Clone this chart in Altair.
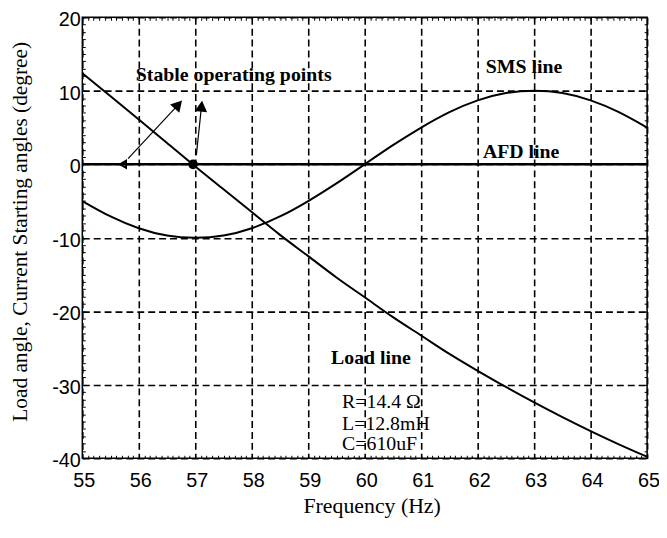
import altair as alt
import pandas as pd

# ---- data ----
freq = [55.0, 55.5, 56.0, 56.5, 57.0, 57.5, 58.0, 58.5, 59.0, 59.5, 60.0,
        60.5, 61.0, 61.5, 62.0, 62.5, 63.0, 63.5, 64.0, 64.5, 65.0]
load_angle = [12.4, 9.25, 6.1, 2.9, -0.3, -3.4, -6.5, -9.6, -12.5, -15.4, -18.1,
              -20.8, -23.3, -25.8, -28.1, -30.3, -32.4, -34.4, -36.3, -38.1, -39.8]
sms_angle = [-5.0, -7.1, -8.7, -9.7, -10.0, -9.7, -8.7, -7.1, -5.0, -2.6, 0.0,
             2.6, 5.0, 7.1, 8.7, 9.7, 10.0, 9.7, 8.7, 7.1, 5.0]
afd_freq = [55.0, 65.0]
afd_angle = [0.0, 0.0]

open_marker_freq = [55.72]
open_marker_angle = [0.0]
dot_marker_freq = [56.96]
dot_marker_angle = [0.0]

arrow_tail_freq = [55.81, 57.02]
arrow_tail_angle = [0.76, 1.29]
arrow_head_freq = [56.70, 57.11]
arrow_head_angle = [8.12, 7.91]
arrow_dir = [42, 6]

bold_labels = ["Stable operating points", "SMS line", "AFD line", "Load line"]
bold_freq = [57.68, 62.82, 62.77, 60.11]
bold_angle = [12.2, 13.3, 1.7, -26.3]

param_labels = ["R=14.4 \u03a9", "L=12.8mH", "C=610uF"]
param_freq = [59.6, 59.6, 59.6]
param_angle = [-32.4, -35.3, -38.0]

x_ticks = [55, 56, 57, 58, 59, 60, 61, 62, 63, 64, 65]
y_ticks = [-40, -30, -20, -10, 0, 10, 20]
x_minor = [round(55 + 0.1 * i, 1) for i in range(101)]
y_minor = list(range(-40, 21))

# ---- tables ----
curves = pd.DataFrame({
    "freq": freq * 2,
    "angle": load_angle + sms_angle,
    "series": ["Load line"] * len(freq) + ["SMS line"] * len(freq),
})
afd = pd.DataFrame({"freq": afd_freq, "angle": afd_angle})
open_m = pd.DataFrame({"freq": open_marker_freq, "angle": open_marker_angle})
dot_m = pd.DataFrame({"freq": dot_marker_freq, "angle": dot_marker_angle})
arrows = pd.DataFrame({
    "f0": arrow_tail_freq, "a0": arrow_tail_angle,
    "f1": arrow_head_freq, "a1": arrow_head_angle, "dir": arrow_dir,
})
bold = pd.DataFrame({"freq": bold_freq, "angle": bold_angle, "label": bold_labels})
params = pd.DataFrame({"freq": param_freq, "angle": param_angle, "label": param_labels})

xs = alt.Scale(domain=[55, 65], nice=False, zero=False)
ys = alt.Scale(domain=[-40, 20], nice=False, zero=False)

SERIF = "Liberation Serif"
SANS = "Liberation Sans"

main_x_axis = alt.Axis(
    values=x_ticks, title="Frequency (Hz)", orient="bottom",
    grid=True, gridColor="black", gridDash=[7, 4], gridWidth=1.6,
    ticks=False, domain=False, labelFont=SANS, labelFontSize=20,
    labelColor="black", labelPadding=13, labelFlush=False, labelOffset=1.5,
    titleFont=SERIF, titleFontSize=22, titleFontWeight="normal",
    titleColor="black", titleX=292, titleY=55, titleBaseline="alphabetic",
)
main_y_axis = alt.Axis(
    values=y_ticks, title="Load angle, Current Starting angles (degree)",
    orient="left", grid=True, gridColor="black", gridDash=[7, 4], gridWidth=1.6,
    ticks=False, domain=False, labelFont=SANS, labelFontSize=20,
    labelColor="black", labelPadding=2, labelFlush=False, labelOffset=2.5,
    labelExpr="'' + datum.value",
    titleFont=SERIF, titleFontSize=21.5, titleFontWeight="normal",
    titleColor="black", titleX=-56, titleY=216, titleAngle=-90,
    titleBaseline="alphabetic",
)


def minor_axis(orient, vals):
    return alt.Axis(
        values=vals, orient=orient, offset=-3, tickSize=3, tickColor="black",
        tickWidth=1, labels=False, domain=False, grid=False, title=None,
    )


lines = alt.Chart(curves).mark_line(
    color="black", strokeWidth=2, interpolate="natural"
).encode(
    x=alt.X("freq:Q", scale=xs, axis=main_x_axis),
    y=alt.Y("angle:Q", scale=ys, axis=main_y_axis),
    detail="series:N",
)

afd_line = alt.Chart(afd).mark_line(color="black", strokeWidth=2.5).encode(
    x=alt.X("freq:Q", scale=xs, axis=minor_axis("top", x_minor)),
    y=alt.Y("angle:Q", scale=ys, axis=minor_axis("right", y_minor)),
)

dot = alt.Chart(dot_m).mark_point(
    shape="circle", filled=True, color="black", size=95, opacity=1
).encode(
    x=alt.X("freq:Q", scale=xs, axis=minor_axis("bottom", x_minor)),
    y=alt.Y("angle:Q", scale=ys, axis=minor_axis("left", y_minor)),
)

open_pt = alt.Chart(open_m).mark_point(
    shape="triangle-left", filled=False, color="black", size=50,
    strokeWidth=2, opacity=1
).encode(
    x=alt.X("freq:Q", scale=xs, axis=None),
    y=alt.Y("angle:Q", scale=ys, axis=None),
)

arrow_shafts = alt.Chart(arrows).mark_rule(color="black", strokeWidth=1.2).encode(
    x=alt.X("f0:Q", scale=xs, axis=None),
    y=alt.Y("a0:Q", scale=ys, axis=None),
    x2="f1:Q",
    y2="a1:Q",
)

arrow_heads = alt.Chart(arrows).mark_point(
    shape="triangle-up", filled=True, color="black", size=160, opacity=1
).encode(
    x=alt.X("f1:Q", scale=xs, axis=None),
    y=alt.Y("a1:Q", scale=ys, axis=None),
    angle=alt.Angle("dir:Q", scale=None),
)

bold_text = alt.Chart(bold).mark_text(
    font=SERIF, fontSize=20, fontWeight="bold", color="black",
    align="center", baseline="middle"
).encode(
    x=alt.X("freq:Q", scale=xs, axis=None),
    y=alt.Y("angle:Q", scale=ys, axis=None),
    text="label:N",
)

param_text = alt.Chart(params).mark_text(
    font=SERIF, fontSize=20, color="black", align="left", baseline="middle"
).encode(
    x=alt.X("freq:Q", scale=xs, axis=None),
    y=alt.Y("angle:Q", scale=ys, axis=None),
    text="label:N",
)

chart = alt.layer(
    lines, afd_line, dot, open_pt, arrow_shafts, arrow_heads, bold_text, param_text
).resolve_axis(
    x="independent", y="independent"
).properties(
    width=570, height=445,
    autosize=alt.AutoSizeParams(type="none"),
    padding={"left": 75, "top": 7, "right": 12, "bottom": 70},
    background="white",
).configure_view(
    stroke="black", strokeWidth=1.5
)

chart.save("out.html", embed_options={"renderer": "svg", "actions": False})
